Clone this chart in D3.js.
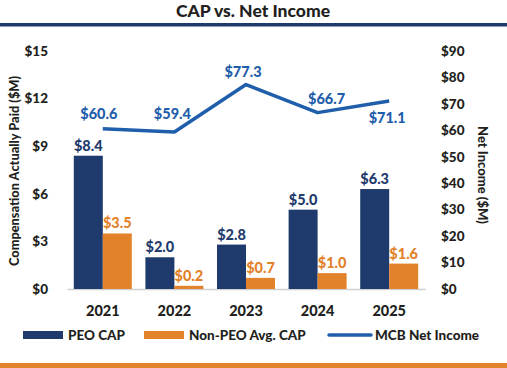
<!DOCTYPE html>
<html>
<head>
<meta charset="utf-8">
<script src="https://cdn.jsdelivr.net/npm/d3@7"></script>
<style>
  body { margin: 0; background: #fff; }
  svg { display: block; font-family: Lato, "Open Sans", sans-serif; font-weight: 900; }
</style>
</head>
<body>
<div id="chart"></div>
<script>
// CAP vs. Net Income

var years = ["2021", "2022", "2023", "2024", "2025"];
var peoCap = [8.4, 2.0, 2.8, 5.0, 6.3];
var nonPeoCap = [3.5, 0.2, 0.7, 1.0, 1.6];
var netIncome = [60.6, 59.4, 77.3, 66.7, 71.1];
var leftTicks = [0, 3, 6, 9, 12, 15];
var rightTicks = [0, 10, 20, 30, 40, 50, 60, 70, 80, 90];

var navy = "#1f3b6d", orange = "#e2822b", blue = "#1f5eaa", ink = "#231f20";

var width = 507, height = 368;
var svg = d3.select("#chart").append("svg")
    .attr("width", width)
    .attr("height", height);

// title + rules
svg.append("text")
    .attr("x", 253).attr("y", 17)
    .attr("text-anchor", "middle")
    .attr("font-size", 17.5)
    .attr("fill", ink)
    .text("CAP vs. Net Income");
svg.append("rect").attr("x", 0).attr("y", 23).attr("width", width).attr("height", 3.5).attr("fill", navy);
svg.append("rect").attr("x", 0).attr("y", 363).attr("width", width).attr("height", 5).attr("fill", orange);

var xScale = d3.scaleBand()
    .domain(years)
    .range([67, 425])
    .paddingInner(0.19)
    .paddingOuter(0.095);
var xSub = d3.scaleBand()
    .domain(["peo", "non"])
    .range([0, xScale.bandwidth()]);
var yLeft = d3.scaleLinear().domain([0, 15]).range([289, 51]);
var yRight = d3.scaleLinear().domain([0, 90]).range([289, 51]);

// axes
var leftAxis = svg.append("g")
    .attr("transform", "translate(48,0)")
    .call(d3.axisLeft(yLeft).tickValues(leftTicks).tickSize(0).tickPadding(0)
        .tickFormat(function(d) { return "$" + d; }));
var rightAxis = svg.append("g")
    .attr("transform", "translate(441,0)")
    .call(d3.axisRight(yRight).tickValues(rightTicks).tickSize(0).tickPadding(0)
        .tickFormat(function(d) { return "$" + d; }));
[leftAxis, rightAxis].forEach(function(ax) {
    ax.select(".domain").remove();
    ax.selectAll("text")
        .attr("font-size", 13.5)
        .attr("font-family", "Lato, sans-serif")
        .attr("font-weight", 900)
        .attr("fill", ink);
});

var xAxis = svg.append("g")
    .attr("transform", "translate(0,289)")
    .call(d3.axisBottom(xScale).tickSize(0).tickPadding(17));
xAxis.select(".domain").attr("stroke", "#d0d0d0").attr("stroke-width", 1.5);
xAxis.selectAll("text")
    .attr("font-size", 14.5)
    .attr("font-family", "Lato, sans-serif")
    .attr("font-weight", 900)
    .attr("fill", ink);

// axis titles
svg.append("text")
    .attr("transform", "translate(19,171) rotate(-90)")
    .attr("text-anchor", "middle")
    .attr("font-size", 12.8)
    .attr("fill", ink)
    .text("Compensation Actually Paid ($M)");
svg.append("text")
    .attr("transform", "translate(478,175) rotate(90)")
    .attr("text-anchor", "middle")
    .attr("font-size", 13)
    .attr("fill", ink)
    .text("Net Income ($M)");

// bars
var series = [
    { key: "peo", values: peoCap, color: navy },
    { key: "non", values: nonPeoCap, color: orange }
];
series.forEach(function(s) {
    var g = svg.append("g");
    g.selectAll("rect")
        .data(s.values)
        .join("rect")
        .attr("x", function(d, i) { return xScale(years[i]) + xSub(s.key); })
        .attr("y", function(d) { return yLeft(d); })
        .attr("width", xSub.bandwidth())
        .attr("height", function(d) { return yLeft(0) - yLeft(d); })
        .attr("fill", s.color);
    g.selectAll("text")
        .data(s.values)
        .join("text")
        .attr("x", function(d, i) { return xScale(years[i]) + xSub(s.key) + xSub.bandwidth() / 2; })
        .attr("y", function(d) { return yLeft(d) - 5; })
        .attr("text-anchor", "middle")
        .attr("font-size", 14.5)
        .attr("fill", s.color)
        .text(function(d) { return "$" + d.toFixed(1); });
});

// net income line
var cx = function(d, i) { return xScale(years[i]) + xScale.bandwidth() / 2; };
svg.append("path")
    .datum(netIncome)
    .attr("fill", "none")
    .attr("stroke", blue)
    .attr("stroke-width", 3.5)
    .attr("stroke-linejoin", "round")
    .attr("d", d3.line().x(cx).y(function(d) { return yRight(d); }));

// label nudges (dx, dy) so they clear the line
var lineLabelShift = [[-4, -10], [-2, -13], [-3, -8], [9, -9], [-2, 22]];
svg.append("g").selectAll("text")
    .data(netIncome)
    .join("text")
    .attr("x", function(d, i) { return cx(d, i) + lineLabelShift[i][0]; })
    .attr("y", function(d, i) { return yRight(d) + lineLabelShift[i][1]; })
    .attr("text-anchor", "middle")
    .attr("font-size", 14.5)
    .attr("fill", blue)
    .text(function(d) { return "$" + d.toFixed(1); });

// legend
var legend = svg.append("g").attr("font-size", 13.5).attr("fill", ink);
legend.append("rect").attr("x", 23).attr("y", 331).attr("width", 40).attr("height", 8).attr("fill", navy);
legend.append("text").attr("x", 68).attr("y", 340).text("PEO CAP");
legend.append("rect").attr("x", 144).attr("y", 331).attr("width", 40).attr("height", 8).attr("fill", orange);
legend.append("text").attr("x", 189).attr("y", 340).text("Non-PEO Avg. CAP");
legend.append("line").attr("x1", 329).attr("x2", 371).attr("y1", 335).attr("y2", 335)
    .attr("stroke", blue).attr("stroke-width", 3.5).attr("stroke-linecap", "round");
legend.append("text").attr("x", 375).attr("y", 340).text("MCB Net Income");
</script>
</body>
</html>
